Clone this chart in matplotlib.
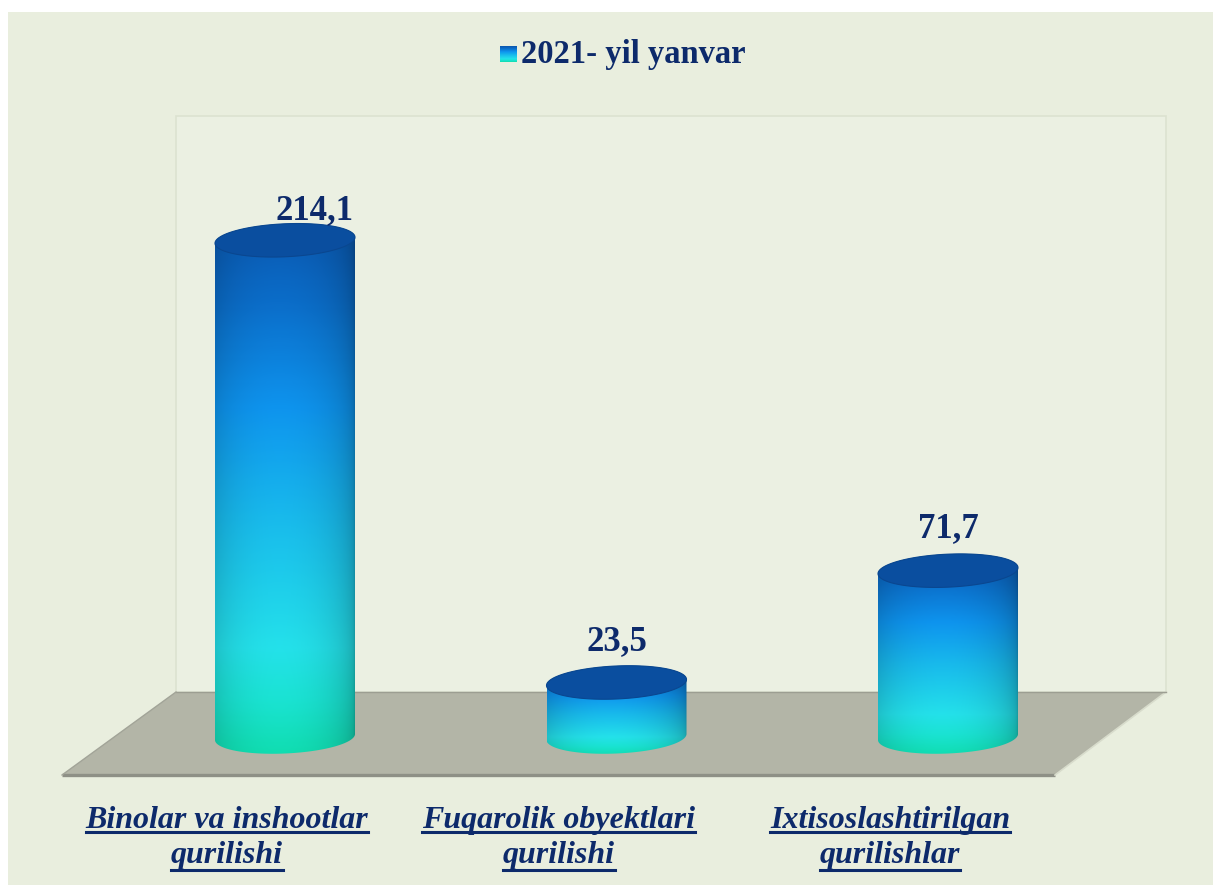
import numpy as np
import matplotlib
matplotlib.use("Agg")
import matplotlib.pyplot as plt
from matplotlib.patches import Polygon, PathPatch, Rectangle
from matplotlib.path import Path
from matplotlib.colors import LinearSegmentedColormap
from matplotlib.lines import Line2D

# ---------------- data ----------------
categories = ["Binolar va inshootlar\nqurilishi",
              "Fuqarolik obyektlari\nqurilishi",
              "Ixtisoslashtirilgan\nqurilishlar"]
values = [214.1, 23.5, 71.7]
value_labels = ["214,1", "23,5", "71,7"]
series_name = "2021- yil yanvar"

# ---------------- style ----------------
W, H = 1213, 885
DPI = 100
BG = "#E9EEDE"
NAVY = "#0D2A6B"
FLOOR = "#B3B5A7"

fig = plt.figure(figsize=(W / DPI, H / DPI), dpi=DPI, facecolor="white")
bgax = fig.add_axes([0, 0, 1, 1], zorder=0)
bgax.set_axis_off()
bgax.add_patch(Rectangle((8 / W, 0), 1, 1 - 12 / H, transform=bgax.transAxes,
                         facecolor=BG, edgecolor="none"))
ax = fig.add_axes([0, 0, 1, 1], zorder=1)
ax.set_axis_off()
ax.patch.set_alpha(0)

# pixel -> data mapping parameters (baseline pixel 737, 2.32 px per unit, bar spacing 331.5 px)
base_px, ppu = 737.0, 2.32
x0_px, dx_px = 285.0, 331.5
XLIM = ((0 - x0_px) / dx_px, (W - x0_px) / dx_px)
YLIM = (-(H - base_px) / ppu, base_px / ppu)


def P(xp, yp):
    """figure pixel (from top-left) -> axes fraction"""
    return (xp / W, 1 - yp / H)


# back wall
ax.add_patch(Polygon([P(176, 116), P(1166, 116), P(1166, 692), P(176, 692)],
                     closed=True, transform=ax.transAxes, facecolor="#EBF0E2",
                     edgecolor="#DCE2D0", lw=1.2, zorder=1))
# floor
ax.add_patch(Polygon([P(176, 692), P(1166, 692), P(1055, 775), P(62, 775)],
                     closed=True, transform=ax.transAxes, facecolor=FLOOR,
                     edgecolor="none", zorder=2))
ax.plot(*zip(P(62, 775), P(1055, 775)), transform=ax.transAxes,
        color="#8E9086", lw=2.4, zorder=2.1, solid_capstyle="butt")
ax.plot(*zip(P(1055, 775), P(1166, 692)), transform=ax.transAxes,
        color="#D8DCCC", lw=1.2, zorder=2.1)
ax.plot(*zip(P(176, 692), P(1166, 692)), transform=ax.transAxes,
        color="#9C9E92", lw=1.0, zorder=2.1)
ax.plot(*zip(P(62, 775), P(176, 692)), transform=ax.transAxes,
        color="#A2A498", lw=1.0, zorder=2.1)

# cylinder colours (bottom -> top)
stops = [(0.00, "#10DDB0"), (0.10, "#1AE3D2"), (0.20, "#24E1EA"),
         (0.45, "#18B9EC"), (0.65, "#0E94EE"), (0.85, "#0B6DC9"), (1.00, "#0A57AF")]
cmap = LinearSegmentedColormap.from_list("cyl", stops)

half_w = 70 / dx_px          # half width in x units
b = 16.5 / ppu               # ellipse half height (value units)
k = 3.0 / ppu                # tilt


def ell(cx, cy, t):
    return np.column_stack([cx + half_w * np.cos(t), cy + b * np.sin(t) + k * np.cos(t)])


for i, v in enumerate(values):
    cx = i
    t_low = np.linspace(np.pi, 2 * np.pi, 80)
    t_up = np.linspace(0, np.pi, 80)
    pts = np.vstack([ell(cx, v, np.array([np.pi])),
                     ell(cx, 0, t_low),
                     ell(cx, v, t_up)])
    body = PathPatch(Path(np.vstack([pts, pts[:1]]), closed=True),
                     facecolor="none", edgecolor="none", zorder=3)
    ax.add_patch(body)

    ny, nx = 300, 120
    s = np.linspace(0, 1, ny)[:, None]
    u = np.linspace(-1, 1, nx)[None, :]
    rgb = cmap(np.repeat(s, nx, axis=1))[..., :3]
    shade = 0.70 + 0.30 * np.sqrt(np.clip(1 - ((u + 0.08) / 1.08) ** 2, 0, 1))
    img = rgb * shade[..., None]
    y_lo, y_hi = -b - k, v + b + k
    im = ax.imshow(img, origin="lower", extent=[cx - half_w, cx + half_w, y_lo, y_hi],
                   aspect="auto", interpolation="bilinear", zorder=3)
    im.set_clip_path(body)

    # top ellipse
    top = ell(cx, v, np.linspace(0, 2 * np.pi, 160))
    ax.add_patch(Polygon(top, closed=True, facecolor="#0A4E9F", edgecolor="#0A4790",
                         lw=0.8, zorder=4))

# value labels (baseline offsets in pixels)
label_off = [(29, 21), (0, 32), (0, 34)]
for i, (v, lab) in enumerate(zip(values, value_labels)):
    ox, oy = label_off[i]
    ax.text(i + ox / dx_px, v + oy / ppu, lab, ha="center", va="baseline",
            fontsize=25, fontweight="bold", family="Liberation Serif", color=NAVY, zorder=5)

# category labels with underlines
cat_texts = []
for i, cat in enumerate(categories):
    for j, line in enumerate(cat.split("\n")):
        t = ax.text(i - 58 / dx_px, -(828 - base_px + j * 35) / ppu, line,
                    ha="center", va="baseline", fontsize=23, fontweight="bold",
                    style="italic", family="Liberation Serif", color=NAVY, zorder=5)
        cat_texts.append((t, j))

# legend
lx, ly = 500, 46
leg_img = cmap(np.linspace(0, 1, 50))[:, None, :3]
ax.imshow(np.repeat(leg_img, 5, axis=1), origin="lower",
          extent=[XLIM[0] + lx / dx_px, XLIM[0] + (lx + 16) / dx_px,
                  YLIM[1] - (ly + 16) / ppu, YLIM[1] - ly / ppu],
          aspect="auto", zorder=5)
ax.text(XLIM[0] + 521 / dx_px, YLIM[1] - 63 / ppu, series_name, ha="left", va="baseline",
        fontsize=23.5, fontweight="bold", family="Liberation Serif", color=NAVY, zorder=5)

ax.set_xlim(*XLIM)
ax.set_ylim(*YLIM)

fig.canvas.draw()
r = fig.canvas.get_renderer()
under_gap = [4, 7]
for t, j in cat_texts:
    bb = t.get_window_extent(r)
    _, yb = ax.transData.transform(t.get_position())
    y = yb - under_gap[j]
    fig.add_artist(Line2D([bb.x0 / W, bb.x1 / W], [y / H, y / H], transform=fig.transFigure,
                          color=NAVY, lw=2.2, zorder=5))

fig.savefig("out.png", dpi=DPI, facecolor="white")
